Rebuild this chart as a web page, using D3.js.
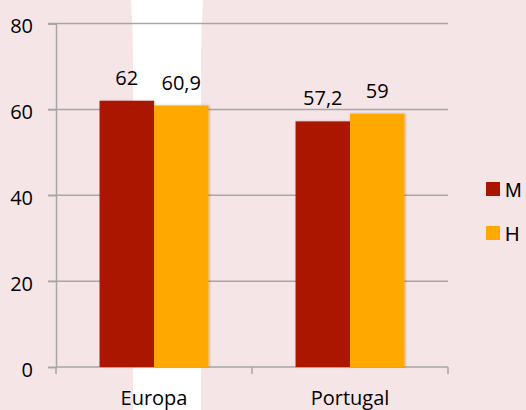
<!DOCTYPE html>
<html>
<head>
<meta charset="utf-8">
<title>Europa / Portugal</title>
<script src="https://d3js.org/d3.v7.min.js"></script>
<style>
html, body { margin: 0; padding: 0; background: #f6e5e7; }
svg { display: block; }
</style>
</head>
<body>
<div id="container"></div>
<script>
// data
var categories = ["Europa", "Portugal"];
var seriesNames = ["M", "H"];
var valuesM = [62, 57.2];
var valuesH = [60.9, 59];
var yTicks = [0, 20, 40, 60, 80];
var colors = ["#aa1500", "#ffa800"];

var W = 526, H = 410;
var plotLeft = 56, plotRight = 448, plotTop = 23.5, plotBottom = 367;

var svg = d3.select("#container")
	.append("svg")
	.attr("width", W)
	.attr("height", H);

// background with the white band
svg.append("rect")
	.attr("width", W).attr("height", H)
	.attr("fill", "#f6e5e7");
svg.append("path")
	.attr("d", "M131,0 Q133,30 133,60 L133,410 L201,410 L201,60 Q201,30 203,0 Z")
	.attr("fill", "#ffffff");

var defs = svg.append("defs");
var shadow = defs.append("filter").attr("id", "shadow")
	.attr("x", "-10%").attr("y", "-10%").attr("width", "130%").attr("height", "120%");
shadow.append("feDropShadow")
	.attr("dx", 1).attr("dy", 0).attr("stdDeviation", 0.8)
	.attr("flood-color", "#000").attr("flood-opacity", 0.25);

var x = d3.scaleBand().domain(categories).range([plotLeft, plotRight]);
var xs = d3.scaleBand().domain(seriesNames).range([0, x.bandwidth()]).paddingOuter(0.8);
var y = d3.scaleLinear().domain([0, 80]).range([plotBottom, plotTop]);

// gridlines
svg.append("g").selectAll("line")
	.data(yTicks.slice(1))
	.join("line")
	.attr("x1", plotLeft - 8).attr("x2", plotRight)
	.attr("y1", d => y(d)).attr("y2", d => y(d))
	.attr("stroke", "#a6a6a6").attr("stroke-width", 1.5);

// y axis
var yAxis = svg.append("g")
	.attr("transform", "translate(" + plotLeft + ",0)")
	.call(d3.axisLeft(y).tickValues(yTicks).tickSize(8).tickPadding(15));
yAxis.select(".domain").attr("stroke", "#a6a6a6").attr("stroke-width", 1.5);
yAxis.selectAll(".tick line").attr("stroke", "#a6a6a6").attr("stroke-width", 1.5);
yAxis.selectAll("text")
	.attr("font-family", "Open Sans").attr("font-size", 20).attr("fill", "#000")
	.attr("dy", "0.45em");

// x axis
var edges = categories.map(c => x(c)).concat([plotRight]);
svg.append("line")
	.attr("x1", plotLeft).attr("x2", plotRight)
	.attr("y1", plotBottom).attr("y2", plotBottom)
	.attr("stroke", "#a6a6a6").attr("stroke-width", 1.5);
svg.append("g").selectAll("line")
	.data(edges)
	.join("line")
	.attr("x1", d => d).attr("x2", d => d)
	.attr("y1", plotBottom).attr("y2", plotBottom + 7)
	.attr("stroke", "#a6a6a6").attr("stroke-width", 1.5);
svg.append("g").selectAll("text")
	.data(categories)
	.join("text")
	.attr("x", d => x(d) + x.bandwidth() / 2)
	.attr("y", 405)
	.attr("text-anchor", "middle")
	.attr("font-family", "Open Sans").attr("font-size", 20)
	.text(d => d);

// bars
var series = [valuesM, valuesH];
var fmt = v => String(v).replace(".", ",");
series.forEach(function(vals, si) {
	var g = svg.append("g");
	g.selectAll("rect")
		.data(vals)
		.join("rect")
		.attr("x", (d, i) => x(categories[i]) + xs(seriesNames[si]))
		.attr("y", d => y(d))
		.attr("width", xs.bandwidth())
		.attr("height", d => y(0) - y(d))
		.attr("fill", colors[si])
		.attr("filter", "url(#shadow)");
	g.selectAll("text")
		.data(vals)
		.join("text")
		.attr("x", (d, i) => x(categories[i]) + xs(seriesNames[si]) + xs.bandwidth() / 2)
		.attr("y", d => y(d) - 16)
		.attr("text-anchor", "middle")
		.attr("font-family", "Open Sans").attr("font-size", 20)
		.text(d => fmt(d));
});

// legend
var legend = svg.append("g").selectAll("g")
	.data(seriesNames)
	.join("g")
	.attr("transform", (d, i) => "translate(486," + (182 + i * 44) + ")");
legend.append("rect")
	.attr("width", 14).attr("height", 14)
	.attr("fill", (d, i) => colors[i]);
legend.append("text")
	.attr("x", 19).attr("y", 15)
	.attr("font-family", "Liberation Sans").attr("font-size", 20)
	.text(d => d);
</script>
</body>
</html>
